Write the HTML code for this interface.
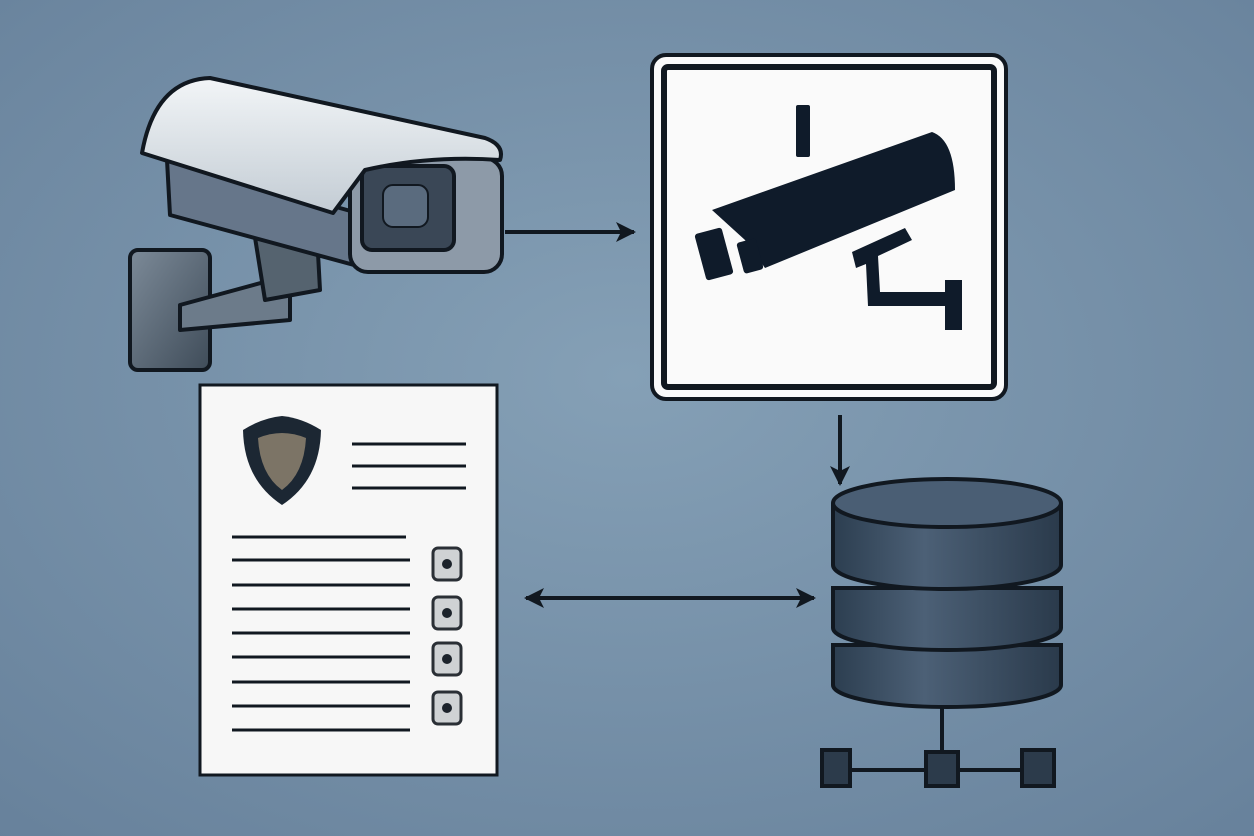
<!DOCTYPE html>
<html><head><style>html,body{margin:0;padding:0;width:1254px;height:836px;overflow:hidden}</style></head>
<body>
<svg width="1254" height="836" viewBox="0 0 1254 836" xmlns="http://www.w3.org/2000/svg">
<defs>
<radialGradient id="bg" cx="50%" cy="45%" r="75%">
<stop offset="0" stop-color="#85a0b6"/><stop offset="1" stop-color="#67819b"/></radialGradient>
<linearGradient id="top" x1="0" y1="0" x2="0" y2="1"><stop offset="0" stop-color="#f2f5f7"/><stop offset="1" stop-color="#c3ccd4"/></linearGradient>
<linearGradient id="metal" x1="0" y1="0" x2="1" y2="1"><stop offset="0" stop-color="#7c8a98"/><stop offset="1" stop-color="#3f4c59"/></linearGradient>
<linearGradient id="disk" x1="0" y1="0" x2="1" y2="0"><stop offset="0" stop-color="#2c3e50"/><stop offset="0.4" stop-color="#4c6076"/><stop offset="1" stop-color="#2a3a4b"/></linearGradient>
<marker id="ah" markerWidth="22" markerHeight="22" refX="18" refY="11" orient="auto-start-reverse" markerUnits="userSpaceOnUse"><path d="M0,1 L20,11 L0,21 L5,11 Z" fill="#111820"/></marker>
</defs>
<rect width="1254" height="836" fill="url(#bg)"/>

<!-- camera -->
<g stroke="#111820" stroke-width="4" stroke-linejoin="round">
<rect x="130" y="250" width="80" height="120" rx="8" fill="url(#metal)"/>
<path d="M180,305 L290,275 L290,320 L180,330 Z" fill="#6c7b8a"/>
<path d="M253,225 L317,235 L320,290 L265,300 Z" fill="#55636f"/>
<path d="M167,160 L365,215 L365,268 L170,215 Z" fill="#66768a"/>
<rect x="350" y="158" width="152" height="114" rx="18" fill="#8d9aa8"/>
<rect x="362" y="166" width="92" height="84" rx="10" fill="#3a4756"/>
<rect x="383" y="185" width="45" height="42" rx="10" fill="#5a6b7e" stroke-width="2"/>
<path d="M210,78 Q155,80 142,153 L333,213 L365,170 Q430,155 500,160 Q505,145 485,138 Z" fill="url(#top)"/>
</g>

<!-- sign -->
<rect x="652" y="55" width="354" height="344" rx="14" fill="#fafafa" stroke="#111820" stroke-width="4"/>
<rect x="664" y="67" width="330" height="320" rx="4" fill="none" stroke="#111820" stroke-width="6"/>
<g fill="#0f1b2a">
<rect x="796" y="105" width="14" height="52" rx="2"/>
<path d="M712,210 L932,132 Q955,140 955,190 L765,268 L745,240 Z"/>
<rect x="700" y="230" width="28" height="48" rx="3" transform="rotate(-15 714 254)"/>
<rect x="740" y="240" width="20" height="32" rx="3" transform="rotate(-15 750 256)"/>
<path d="M852,252 L905,228 L912,240 L878,256 L880,292 L945,292 L945,280 L962,280 L962,330 L945,330 L945,306 L868,306 L866,264 L856,268 Z"/>
</g>

<!-- arrows -->
<g stroke="#111820" stroke-width="4" fill="none">
<line x1="505" y1="232" x2="634" y2="232" marker-end="url(#ah)"/>
<line x1="840" y1="415" x2="840" y2="484" marker-end="url(#ah)"/>
<line x1="526" y1="598" x2="814" y2="598" marker-start="url(#ah)" marker-end="url(#ah)"/>
</g>

<!-- database -->
<g stroke="#111820" stroke-width="4">
<line x1="942" y1="700" x2="942" y2="760"/>
<line x1="835" y1="770" x2="1040" y2="770"/>
<rect x="822" y="750" width="28" height="36" fill="#2c3b4b"/>
<rect x="926" y="752" width="32" height="34" fill="#2c3b4b"/>
<rect x="1022" y="750" width="32" height="36" fill="#2c3b4b"/>
<path d="M833,645 L833,685 A114,22 0 0 0 1061,685 L1061,645 Z" fill="url(#disk)"/>
<path d="M833,588 L833,628 A114,22 0 0 0 1061,628 L1061,588 Z" fill="url(#disk)"/>
<path d="M833,505 L833,565 A114,24 0 0 0 1061,565 L1061,505 Z" fill="url(#disk)"/>
<ellipse cx="947" cy="503" rx="114" ry="24" fill="#4a5e74"/>
</g>

<!-- document -->
<rect x="200" y="385" width="297" height="390" fill="#f7f7f7" stroke="#111820" stroke-width="3"/>
<path d="M243,430 Q262,418 282,416 Q302,418 321,430 Q320,480 282,505 Q244,480 243,430 Z" fill="#1c2733"/>
<path d="M258,438 Q282,428 306,438 Q304,474 282,490 Q260,474 258,438 Z" fill="#7c7466"/>
<g stroke="#111820" stroke-width="3">
<line x1="352" y1="444" x2="466" y2="444"/><line x1="352" y1="466" x2="466" y2="466"/><line x1="352" y1="488" x2="466" y2="488"/>
<line x1="232" y1="537" x2="406" y2="537"/><line x1="232" y1="560" x2="410" y2="560"/>
<line x1="232" y1="585" x2="410" y2="585"/><line x1="232" y1="609" x2="410" y2="609"/>
<line x1="232" y1="633" x2="410" y2="633"/><line x1="232" y1="657" x2="410" y2="657"/>
<line x1="232" y1="682" x2="410" y2="682"/><line x1="232" y1="706" x2="410" y2="706"/>
<line x1="232" y1="730" x2="410" y2="730"/>
</g>
<g fill="#cfd2d4" stroke="#2a2f35" stroke-width="3">
<rect x="433" y="548" width="28" height="32" rx="5"/>
<rect x="433" y="597" width="28" height="32" rx="5"/>
<rect x="433" y="643" width="28" height="32" rx="5"/>
<rect x="433" y="692" width="28" height="32" rx="5"/>
</g>
<g fill="#1c232b"><circle cx="447" cy="564" r="5"/><circle cx="447" cy="613" r="5"/><circle cx="447" cy="659" r="5"/><circle cx="447" cy="708" r="5"/></g>
</svg>
</body></html>
